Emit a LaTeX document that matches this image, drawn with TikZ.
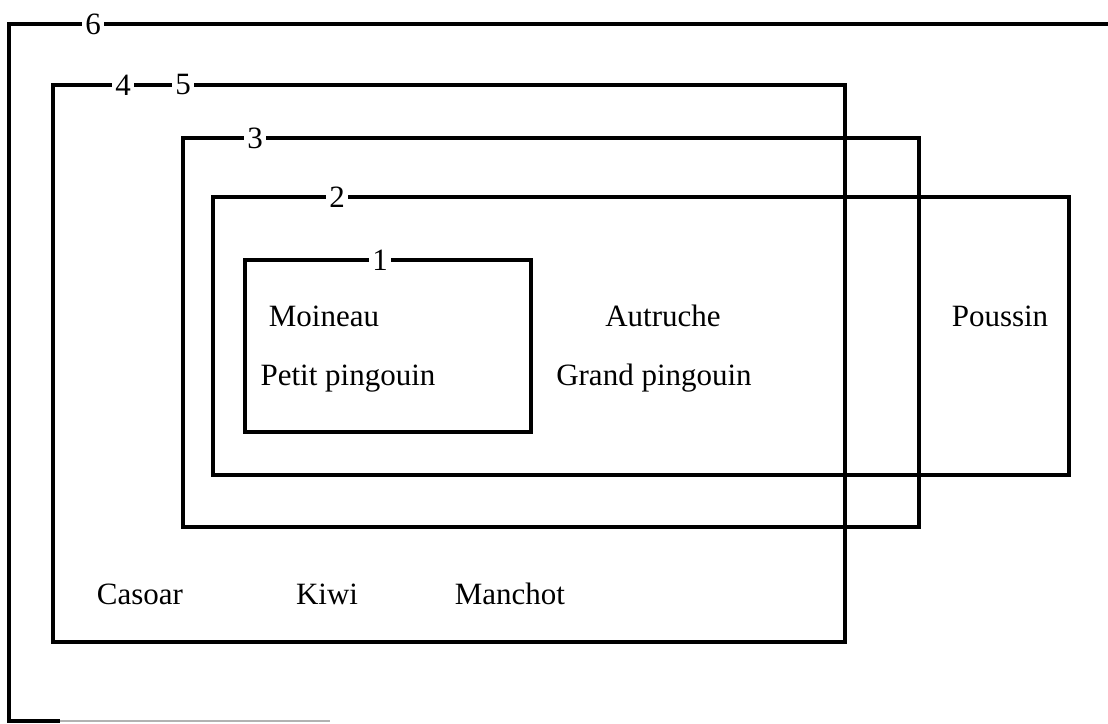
\documentclass[tikz,border=0pt]{standalone}
\usepackage{fontspec}
\setmainfont{Liberation Serif}
\begin{document}
\begin{tikzpicture}[x=1pt,y=-1pt,
  boxline/.style={line width=3.2pt,line join=miter},
  num/.style={fill=white,inner xsep=3pt,inner ysep=1pt,font=\fontsize{31}{36}\selectfont},
  word/.style={inner sep=0pt,anchor=base,font=\fontsize{31}{36}\selectfont}]
\useasboundingbox (0,0) rectangle (1108,723);
% box 6 (open to the right)
\draw[boxline] (1108,24) -- (9,24) -- (9,721) -- (60,721);
\draw[line width=2.4pt,black!30] (60,721) -- (330,721);
\node[num] (n6) at (93,24) {6};
% box 4/5
\draw[boxline] (53,85) rectangle (845,642);
\node[num] (n4) at (123,85) {4};
\node[num] (n5) at (183,85) {5};
% box 3
\draw[boxline] (183,138) rectangle (919,527);
\node[num] (n3) at (255,138) {3};
% box 2
\draw[boxline] (213,197) rectangle (1069,475);
\node[num] (n2) at (337,197) {2};
% box 1
\draw[boxline] (245,260) rectangle (531,432);
\node[num] (n1) at (380,260) {1};
% words
\node[word] (moineau) at (324,326) {Moineau};
\node[word] (petit) at (348,385) {Petit pingouin};
\node[word] (autruche) at (663,326) {Autruche};
\node[word] (grand) at (654,385) {Grand pingouin};
\node[word] (poussin) at (1000,326) {Poussin};
\node[word] (casoar) at (140,604) {Casoar};
\node[word] (kiwi) at (327,604) {Kiwi};
\node[word] (manchot) at (510,604) {Manchot};
\end{tikzpicture}
\end{document}
